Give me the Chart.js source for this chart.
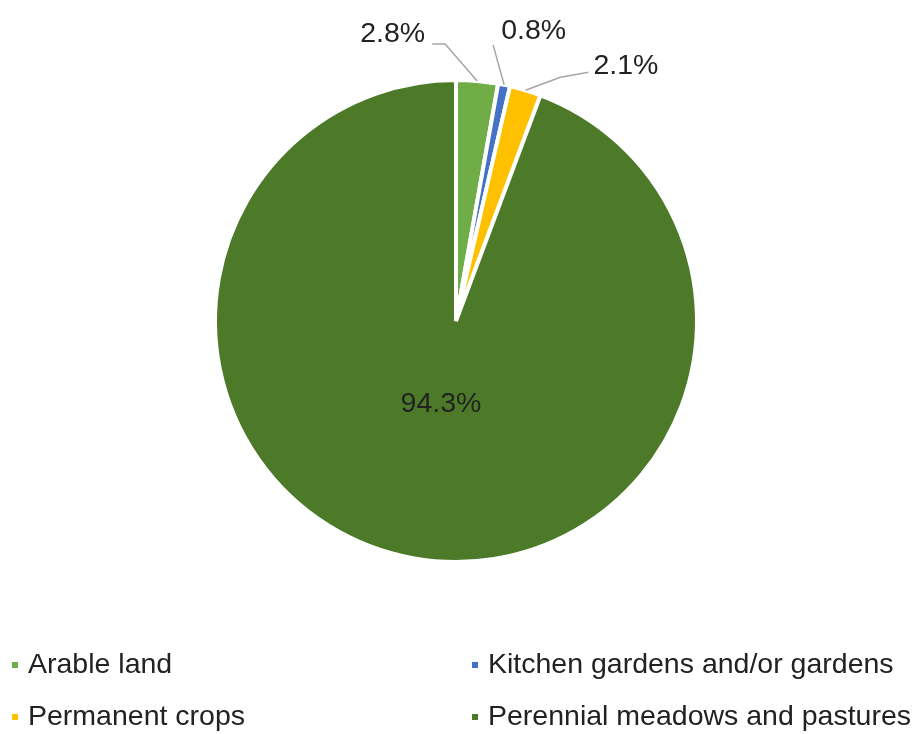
<!DOCTYPE html>
<html>
<head>
<meta charset="utf-8">
<title>Agricultural land use</title>
<script src="https://cdn.jsdelivr.net/npm/chart.js@4"></script>
<style>
  html, body { margin: 0; padding: 0; background: #fff; }
  canvas { display: block; }
</style>
</head>
<body>
<canvas id="myChart" width="918" height="734"></canvas>
<script>
const categories = [
  'Arable land',
  'Kitchen gardens and/or gardens',
  'Permanent crops',
  'Perennial meadows and pastures',
];
const shares = [2.8, 0.8, 2.1, 94.3];
const colours = ['#70ad47', '#4472c4', '#ffc000', '#4c7a29'];

const FONT = '28.5px "Liberation Sans", Arial, sans-serif';
const TEXT = '#222';

// callout layout per slice, relative to the point on the rim at mid-angle
// null = label sits inside the slice
const callouts = [
  { elbow: [-32, -37], end: [-45, -37], text: [-52, -47], align: 'right' },
  { elbow: null, end: [-11, -40], text: [-3, -54], align: 'left' },
  { elbow: [35, -13], end: [63, -18], text: [68, -24], align: 'left' },
  null,
];

const legendCols = [12, 472];
const legendRows = [665, 717];

const pieLabels = {
  id: 'pieLabels',
  afterDatasetsDraw(chart) {
    const ctx = chart.ctx;
    const arcs = chart.getDatasetMeta(0).data;
    ctx.save();
    ctx.font = FONT;
    ctx.fillStyle = TEXT;
    ctx.textBaseline = 'middle';
    arcs.forEach((arc, i) => {
      const { x, y, startAngle, endAngle, outerRadius } = arc.getProps(
        ['x', 'y', 'startAngle', 'endAngle', 'outerRadius'], true);
      const mid = (startAngle + endAngle) / 2;
      const txt = shares[i].toFixed(1) + '%';
      const c = callouts[i];
      if (!c) {
        ctx.textAlign = 'center';
        ctx.fillText(txt, x + Math.cos(mid) * outerRadius * 0.35,
          y + Math.sin(mid) * outerRadius * 0.35);
        return;
      }
      const ax = x + Math.cos(mid) * outerRadius;
      const ay = y + Math.sin(mid) * outerRadius;
      ctx.strokeStyle = '#a6a6a6';
      ctx.lineWidth = 1.5;
      ctx.beginPath();
      ctx.moveTo(ax, ay);
      if (c.elbow) ctx.lineTo(ax + c.elbow[0], ay + c.elbow[1]);
      ctx.lineTo(ax + c.end[0], ay + c.end[1]);
      ctx.stroke();
      ctx.textAlign = c.align;
      ctx.fillText(txt, ax + c.text[0], ay + c.text[1]);
    });
    ctx.restore();
  },
  afterDraw(chart) {
    const ctx = chart.ctx;
    ctx.save();
    ctx.font = FONT;
    ctx.textBaseline = 'middle';
    ctx.textAlign = 'left';
    chart.data.labels.forEach((label, i) => {
      const lx = legendCols[i % 2];
      const ly = legendRows[Math.floor(i / 2)];
      ctx.fillStyle = colours[i];
      ctx.fillRect(lx, ly - 3, 6, 6);
      ctx.fillStyle = TEXT;
      ctx.fillText(label, lx + 16, ly);
    });
    ctx.restore();
  },
};

const ctx = document.getElementById('myChart').getContext('2d');
const myChart = new Chart(ctx, {
  type: 'pie',
  data: {
    labels: categories,
    datasets: [
      {
        data: shares,
        backgroundColor: colours,
        borderColor: '#fff',
        borderWidth: 4,
      },
    ],
  },
  options: {
    responsive: false,
    animation: false,
    layout: { padding: { top: 78, bottom: 170, left: 0, right: 6 } },
    plugins: {
      legend: { display: false },
      tooltip: { enabled: false },
    },
  },
  plugins: [pieLabels],
});
</script>
</body>
</html>
